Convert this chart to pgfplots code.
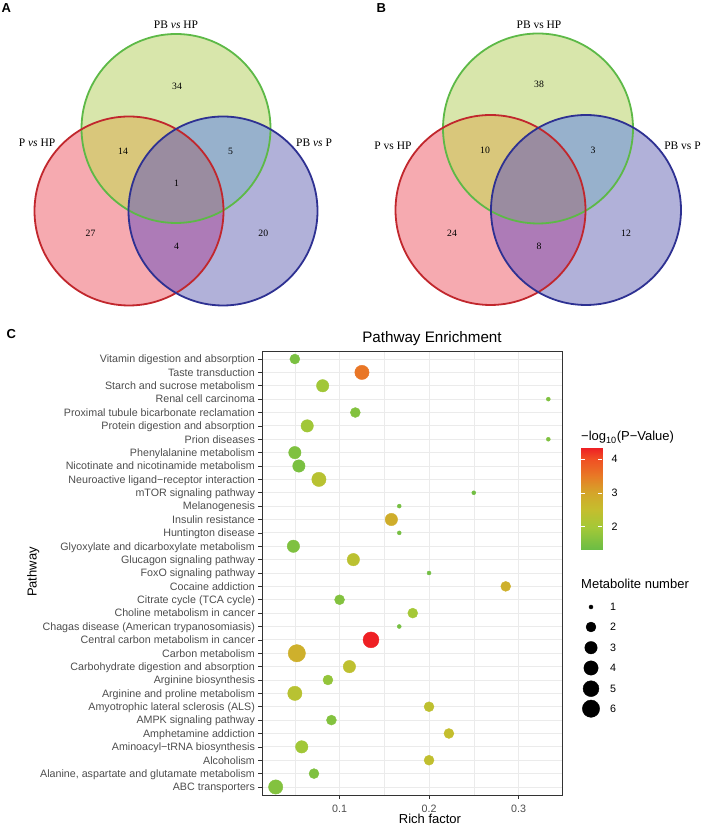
\documentclass[border=0pt]{standalone}
\usepackage{fontspec}
\setmainfont{Liberation Sans}
\newfontfamily\vennfont{Liberation Serif}
\usepackage{pgfplots}
\usepackage{pgfplotstable}
\pgfplotsset{compat=1.18}

\definecolor{grey20}{HTML}{333333}
\definecolor{grey30}{HTML}{4D4D4D}
\definecolor{grey92}{HTML}{EBEBEB}
% venn region colours
\definecolor{vr}{HTML}{F6AAB0}
\definecolor{vg}{HTML}{D8E6AB}
\definecolor{vb}{HTML}{B1B1D9}
\definecolor{vrg}{HTML}{D9C77B}
\definecolor{vgb}{HTML}{97B1CC}
\definecolor{vrb}{HTML}{AD7BB7}
\definecolor{vall}{HTML}{9A8CA0}
\definecolor{sr}{HTML}{C1272D}
\definecolor{sg}{HTML}{5DB947}
\definecolor{sb}{HTML}{2E3192}

\newcommand{\axfont}{\fontsize{10.7}{12}\selectfont}
\newcommand{\ttlfont}{\fontsize{13}{15}\selectfont}

\pgfplotsset{
  colormap={enrich}{rgb255(131pt)=(106,189,69); rgb255(200pt)=(165,200,55); rgb255(250pt)=(196,190,46);
    rgb255(300pt)=(212,166,42); rgb255(350pt)=(232,122,38); rgb255(400pt)=(240,80,36); rgb255(433pt)=(238,32,36)},
}

% rich factor, pathway index (bottom = 1), metabolite number, -log10(P)
\pgfplotstableread{
x      y  n p
0.0286 1  4 1.60
0.0714 2  2 1.55
0.2000 3  2 2.45
0.0577 4  3 1.95
0.2222 5  2 2.50
0.0909 6  2 1.60
0.2000 7  2 2.40
0.0500 8  4 2.30
0.0870 9  2 1.80
0.1110 10 3 2.40
0.0522 11 6 2.80
0.1351 12 5 4.33
0.1667 13 1 1.45
0.1818 14 2 2.00
0.1000 15 2 1.60
0.2857 16 2 2.80
0.2000 17 1 1.40
0.1154 18 3 2.35
0.0484 19 3 1.55
0.1667 20 1 1.45
0.1579 21 3 2.85
0.1667 22 1 1.45
0.2500 23 1 1.40
0.0769 24 4 2.30
0.0545 25 3 1.50
0.0500 26 3 1.55
0.3333 27 1 1.55
0.0638 28 3 1.95
0.1176 29 2 1.60
0.3333 30 1 1.55
0.0811 31 3 1.95
0.1250 32 4 3.55
0.0500 33 2 1.50
}\bubbles

\begin{document}
\begin{tikzpicture}[x=1pt,y=1pt]
\path (0,0) rectangle (701,825);

% ---------- Venn A ----------
\coordinate (Ag) at (176,696.5);
\coordinate (Ar) at (129,614);
\coordinate (Ab) at (223,614);
\def\ra{94.5}
\fill[vr] (Ar) circle (\ra);
\fill[vg] (Ag) circle (\ra);
\fill[vb] (Ab) circle (\ra);
\begin{scope}\clip (Ar) circle (\ra); \fill[vrg] (Ag) circle (\ra); \fill[vrb] (Ab) circle (\ra);\end{scope}
\begin{scope}\clip (Ag) circle (\ra); \fill[vgb] (Ab) circle (\ra);\end{scope}
\begin{scope}\clip (Ar) circle (\ra); \clip (Ag) circle (\ra); \fill[vall] (Ab) circle (\ra);\end{scope}
\draw[sg, line width=1.8pt] (Ag) circle (\ra);
\draw[sr, line width=1.8pt] (Ar) circle (\ra);
\draw[sb, line width=1.8pt] (Ab) circle (\ra);

% ---------- Venn B ----------
\coordinate (Bg) at (538,696.5);
\coordinate (Br) at (490.5,615);
\coordinate (Bb) at (586,615);
\def\rb{95}
\fill[vr] (Br) circle (\rb);
\fill[vg] (Bg) circle (\rb);
\fill[vb] (Bb) circle (\rb);
\begin{scope}\clip (Br) circle (\rb); \fill[vrg] (Bg) circle (\rb); \fill[vrb] (Bb) circle (\rb);\end{scope}
\begin{scope}\clip (Bg) circle (\rb); \fill[vgb] (Bb) circle (\rb);\end{scope}
\begin{scope}\clip (Br) circle (\rb); \clip (Bg) circle (\rb); \fill[vall] (Bb) circle (\rb);\end{scope}
\draw[sg, line width=1.8pt] (Bg) circle (\rb);
\draw[sr, line width=1.8pt] (Br) circle (\rb);
\draw[sb, line width=1.8pt] (Bb) circle (\rb);

% set names
\begin{scope}[every node/.style={inner sep=0pt, anchor=base, font=\vennfont\fontsize{11.5}{13}\selectfont}]
\node at (176,796.7) {PB \textit{vs} HP};
\node at (37,678.3) {P \textit{vs} HP};
\node at (314,678.3) {PB \textit{vs} P};
\node at (539,796.7) {PB vs HP};
\node at (393,675) {P vs HP};
\node at (682.5,675) {PB vs P};
\end{scope}

% panel letters
\begin{scope}[every node/.style={inner sep=0pt, anchor=base west, font=\bfseries\fontsize{13}{13}\selectfont}]
\node at (1.5,812.3) {A};
\node at (376.5,812.5) {B};
\node at (6.5,486) {C};
\end{scope}

% ---------- overlay axis: venn counts and size legend ----------
\begin{axis}[at={(0pt,0pt)}, anchor=south west, scale only axis,
  width=701pt, height=825pt, xmin=0, xmax=701, ymin=0, ymax=825,
  hide axis, clip=false]
  \addplot[draw=none, mark=none, nodes near coords, point meta=explicit symbolic,
    every node near coord/.style={anchor=center, inner sep=0pt,
      font=\vennfont\fontsize{9.7}{11}\selectfont}]
    coordinates {
    (177,739)[34] (123,674)[14] (230.5,674)[5] (176.5,641.7)[1]
    (90.5,592)[27] (176.5,578.3)[4] (263.3,592)[20]
    (539,741)[38] (485,675)[10] (593,675)[3]
    (452,592)[24] (539,579)[8] (626,592)[12]
  };
  % metabolite number legend
  \addplot[scatter, only marks, mark=*,
    scatter/use mapped color={draw=black, fill=black},
    visualization depends on={\thisrow{n} \as \nn},
    scatter/@pre marker code/.append style={/tikz/mark size={2+6.65*sqrt((\nn-1)/5)}}]
    table {
    x   y     n
    591 218   1
    591 198   2
    591 177.3 3
    591 157   4
    591 136.3 5
    591 116.3 6
  };
  \addplot[draw=none, mark=none, nodes near coords, point meta=explicit symbolic,
    every node near coord/.style={anchor=west, inner sep=0pt, font=\axfont}]
    coordinates {(610,218)[1] (610,198)[2] (610,177.3)[3] (610,157)[4] (610,136.3)[5] (610,116.3)[6]};
\end{axis}

% ---------- colour bar ----------
\begin{axis}[at={(581pt,275pt)}, anchor=south west, scale only axis,
  width=21pt, height=102pt, xmin=0, xmax=1, ymin=1.31, ymax=4.33,
  point meta min=1.31, point meta max=4.33,
  axis line style={draw=none}, xtick=\empty, ytick={2,3,4},
  tick align=inside, major tick length=4pt,
  tick style={draw=white, line width=0.6pt},
  yticklabel pos=right,
  /pgf/number format/assume math mode=true,
  yticklabel style={font=\axfont, text=black, inner sep=0pt, anchor=west, xshift=9.5pt},
  axis on top]
  \addplot[surf, shader=interp, mesh/cols=2, point meta=y] coordinates {
    (0,1.31) (1,1.31)
    (0,1.60) (1,1.60)
    (0,2.00) (1,2.00)
    (0,2.25) (1,2.25)
    (0,2.50) (1,2.50)
    (0,2.75) (1,2.75)
    (0,3.00) (1,3.00)
    (0,3.25) (1,3.25)
    (0,3.50) (1,3.50)
    (0,3.75) (1,3.75)
    (0,4.00) (1,4.00)
    (0,4.33) (1,4.33)
  };
\end{axis}

% ---------- bubble chart ----------
\begin{axis}[at={(262pt,30pt)}, anchor=south west, scale only axis,
  width=300pt, height=444pt,
  xmin=0.0133, xmax=0.3486, ymin=0.4, ymax=33.6,
  xtick={0.1,0.2,0.3}, minor xtick={0.05,0.15,0.25},
  ytick={1,...,33},
  yticklabels={ABC transporters, {Alanine, aspartate and glutamate metabolism}, Alcoholism,
    Aminoacyl−tRNA biosynthesis, Amphetamine addiction, AMPK signaling pathway,
    Amyotrophic lateral sclerosis (ALS), Arginine and proline metabolism, Arginine biosynthesis,
    Carbohydrate digestion and absorption, Carbon metabolism, Central carbon metabolism in cancer,
    Chagas disease (American trypanosomiasis), Choline metabolism in cancer, Citrate cycle (TCA cycle),
    Cocaine addiction, FoxO signaling pathway, Glucagon signaling pathway,
    Glyoxylate and dicarboxylate metabolism, Huntington disease, Insulin resistance, Melanogenesis,
    mTOR signaling pathway, Neuroactive ligand−receptor interaction, Nicotinate and nicotinamide metabolism,
    Phenylalanine metabolism, Prion diseases, Protein digestion and absorption,
    Proximal tubule bicarbonate reclamation, Renal cell carcinoma, Starch and sucrose metabolism,
    Taste transduction, Vitamin digestion and absorption},
  xmajorgrids, ymajorgrids, xminorgrids,
  major grid style={draw=grey92, line width=0.9pt},
  minor grid style={draw=grey92, line width=0.45pt},
  axis line style={draw=grey20, line width=0.7pt},
  tick align=outside, xtick pos=left, ytick pos=left,
  major tick length=3.7pt, minor tick length=0pt,
  tick style={draw=grey20, line width=0.7pt},
  /pgf/number format/assume math mode=true,
  xticklabel style={font=\axfont, text=grey30, inner sep=0pt, anchor=north, yshift=-6.3pt},
  yticklabel style={font=\axfont, text=grey30, inner sep=0pt, anchor=base east, xshift=-3.2pt, yshift=-3.8pt},
  point meta min=1.31, point meta max=4.33,
]
  \addplot[scatter, only marks, mark=*, point meta=explicit,
    scatter/use mapped color={draw=mapped color, fill=mapped color},
    visualization depends on={\thisrow{n} \as \nn},
    scatter/@pre marker code/.append style={/tikz/mark size={2+6.65*sqrt((\nn-1)/5)}}]
    table[x=x, y=y, meta=p] {\bubbles};
\end{axis}

% titles
\node[anchor=base, inner sep=0pt, font=\fontsize{15.2}{17}\selectfont] at (432,482) {Pathway Enrichment};
\node[anchor=base, inner sep=0pt, font=\ttlfont] at (430,1.2) {Rich factor};
\node[anchor=base, inner sep=0pt, rotate=90, font=\ttlfont] at (36.5,253) {Pathway};
\node[anchor=base west, inner sep=0pt, font=\ttlfont] at (581,384) {−log\textsubscript{10}(P−Value)};
\node[anchor=base west, inner sep=0pt, font=\ttlfont] at (581,236.7) {Metabolite number};
\end{tikzpicture}
\end{document}
